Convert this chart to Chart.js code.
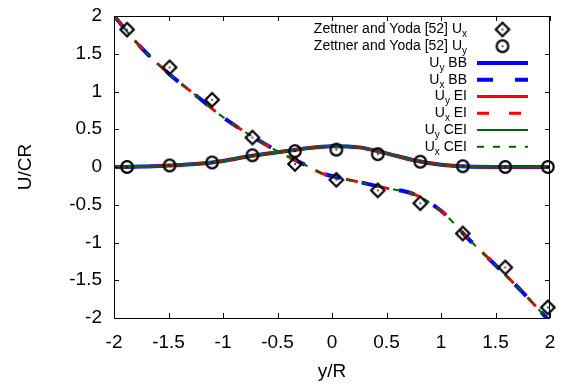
<!DOCTYPE html>
<html>
<head>
<meta charset="utf-8">
<script src="https://cdn.jsdelivr.net/npm/chart.js@4.4.0/dist/chart.umd.min.js"></script>
<style>
  html, body { margin: 0; padding: 0; background: #fff; }
</style>
</head>
<body>
<canvas id="chart" width="567" height="385"></canvas>
<script>
// ---- values ----
const xTicks = [-2, -1.5, -1, -0.5, 0, 0.5, 1, 1.5, 2];
const yTicks = [-2, -1.5, -1, -0.5, 0, 0.5, 1, 1.5, 2];

// Zettner and Yoda [52] measurements
const expX  = [-1.88, -1.49, -1.10, -0.73, -0.34, 0.04, 0.42, 0.81, 1.20, 1.59, 1.98];
const expUx = [1.82, 1.32, 0.89, 0.39, 0.04, -0.17, -0.31, -0.48, -0.88, -1.33, -1.86];
const expUy = [0.0, 0.02, 0.06, 0.155, 0.21, 0.23, 0.17, 0.07, 0.01, 0.0, 0.0];

// simulated profiles (BB, EI and CEI sit on top of each other)
const uyX = [-2, -1.75, -1.5, -1.25, -1, -0.75, -0.5, -0.25, 0, 0.25, 0.5, 0.75, 1, 1.25, 1.5, 1.75, 2];
const uyModel = [0, 0.005, 0.02, 0.04, 0.08, 0.145, 0.195, 0.245, 0.275, 0.26, 0.18, 0.09, 0.03, 0.005, 0, 0, 0];

const uxX = [-2, -1.75, -1.5, -1.25, -1, -0.75, -0.5, -0.35, -0.25, -0.1, 0, 0.25, 0.5, 0.75, 1, 1.25, 1.5, 1.75, 2];
const uxModel = [2.0, 1.58, 1.24, 0.95, 0.66, 0.42, 0.21, 0.1, 0.03, -0.08, -0.12, -0.2, -0.28, -0.36, -0.58, -0.95, -1.3, -1.66, -2.05];

const FONT = '"Liberation Sans", Arial, sans-serif';
const BLUE = '#0000ff', RED = '#ff0000', GREEN = '#006400';

const pts = (xs, ys) => xs.map((x, i) => ({ x, y: ys[i] }));

// gnuplot style markers: open diamond / circle with a dot in the middle
function marker(kind) {
    const c = document.createElement('canvas');
    c.width = c.height = 18;
    const g = c.getContext('2d');
    g.strokeStyle = '#000';
    g.fillStyle = '#000';
    g.lineWidth = 2.2;
    g.beginPath();
    if (kind === 'diamond') {
        g.moveTo(9, 2.3); g.lineTo(15.7, 9); g.lineTo(9, 15.7); g.lineTo(2.3, 9); g.closePath();
    } else {
        g.arc(9, 9, 5.8, 0, Math.PI * 2);
    }
    g.stroke();
    g.fillRect(8.2, 8.2, 1.6, 1.6);
    return c;
}

function curve(label, xs, ys, color, width, dash) {
    return {
        label, data: pts(xs, ys), showLine: true, pointRadius: 0,
        borderColor: color, borderWidth: width, borderDash: dash,
        borderCapStyle: 'butt', cubicInterpolationMode: 'monotone', clip: 0
    };
}

const datasets = [
    { label: 'Ux exp', data: pts(expX, expUx), pointStyle: marker('diamond'), showLine: false, clip: false },
    { label: 'Uy exp', data: pts(expX, expUy), pointStyle: marker('circle'), showLine: false, clip: false },
    curve('Uy CEI', uyX, uyModel, GREEN, 2, []),
    curve('Ux CEI', uxX, uxModel, GREEN, 2, [7, 9]),
    curve('Uy EI', uyX, uyModel, RED, 3, []),
    curve('Ux EI', uxX, uxModel, RED, 3, [12, 20]),
    curve('Uy BB', uyX, uyModel, BLUE, 4, []),
    curve('Ux BB', uxX, uxModel, BLUE, 4, [16, 22])
];

// legend rows: main text, subscript, trailing text, dataset index
const legendRows = [
    ['Zettner and Yoda [52] U', 'x', '', 0],
    ['Zettner and Yoda [52] U', 'y', '', 1],
    ['U', 'y', ' BB', 6],
    ['U', 'x', ' BB', 7],
    ['U', 'y', ' EI', 4],
    ['U', 'x', ' EI', 5],
    ['U', 'y', ' CEI', 2],
    ['U', 'x', ' CEI', 3]
];

const frame = {
    id: 'frame',
    afterDatasetsDraw(chart) {
        const { ctx, chartArea: a, scales } = chart;
        ctx.save();
        ctx.strokeStyle = '#000';
        ctx.lineWidth = 1;
        ctx.strokeRect(a.left + 0.5, a.top + 0.5, a.right - a.left - 1, a.bottom - a.top);
        ctx.beginPath();
        const tl = 5;
        xTicks.forEach(v => {
            const px = Math.round(scales.x.getPixelForValue(v)) + 0.5;
            ctx.moveTo(px, a.bottom); ctx.lineTo(px, a.bottom - tl);
            ctx.moveTo(px, a.top); ctx.lineTo(px, a.top + tl);
        });
        yTicks.forEach(v => {
            const py = Math.round(scales.y.getPixelForValue(v)) + 0.5;
            ctx.moveTo(a.left, py); ctx.lineTo(a.left + tl, py);
            ctx.moveTo(a.right, py); ctx.lineTo(a.right - tl, py);
        });
        ctx.stroke();
        ctx.restore();
    },
    afterDraw(chart) {
        const ctx = chart.ctx;
        const textRight = 467, lineL = 477, lineR = 528;
        ctx.save();
        legendRows.forEach(([main, sub, tail, di], i) => {
            const y = 29.5 + i * 16.75;
            ctx.font = '14px ' + FONT;
            const wMain = ctx.measureText(main).width;
            const wTail = ctx.measureText(tail).width;
            ctx.font = '10px ' + FONT;
            const wSub = ctx.measureText(sub).width;
            let x = textRight - wMain - wSub - wTail;
            ctx.fillStyle = '#000';
            ctx.textBaseline = 'middle';
            ctx.textAlign = 'left';
            ctx.font = '14px ' + FONT;
            ctx.fillText(main, x, y);
            x += wMain;
            ctx.font = '10px ' + FONT;
            ctx.fillText(sub, x, y + 5);
            x += wSub;
            ctx.font = '14px ' + FONT;
            ctx.fillText(tail, x, y);

            const ds = chart.data.datasets[di];
            if (ds.showLine) {
                ctx.strokeStyle = ds.borderColor;
                ctx.lineWidth = ds.borderWidth;
                ctx.lineCap = 'butt';
                ctx.setLineDash(ds.borderDash);
                ctx.beginPath();
                ctx.moveTo(lineL, y); ctx.lineTo(lineR, y);
                ctx.stroke();
                ctx.setLineDash([]);
            } else {
                const img = ds.pointStyle;
                ctx.drawImage(img, (lineL + lineR) / 2 - img.width / 2, y - img.height / 2);
            }
        });
        ctx.restore();
    }
};

const tickFont = { family: FONT, size: 19 };

new Chart(document.getElementById('chart'), {
    type: 'scatter',
    data: { datasets },
    plugins: [frame],
    options: {
        responsive: false,
        animation: false,
        devicePixelRatio: 1,
        layout: { padding: { left: 0, top: 16, right: 17, bottom: 0 } },
        plugins: { legend: { display: false }, tooltip: { enabled: false } },
        scales: {
            x: {
                type: 'linear', min: -2, max: 2,
                afterBuildTicks: s => { s.ticks = xTicks.map(v => ({ value: v })); },
                afterFit: s => { s.height = 67; s.paddingLeft = 0; s.paddingRight = 0; },
                ticks: { color: '#000', font: tickFont, padding: 13, maxRotation: 0, autoSkip: false, callback: v => String(v) },
                grid: { display: false, drawTicks: false },
                border: { display: false },
                title: { display: true, text: 'y/R', color: '#000', font: tickFont, padding: { top: 0, bottom: 2 } }
            },
            y: {
                type: 'linear', min: -2, max: 2,
                afterBuildTicks: s => { s.ticks = yTicks.map(v => ({ value: v })); },
                afterFit: s => { s.width = 114; s.paddingTop = 0; s.paddingBottom = 0; },
                ticks: { color: '#000', font: tickFont, padding: 12, autoSkip: false, callback: v => String(v) },
                grid: { display: false, drawTicks: false },
                border: { display: false },
                title: { display: true, text: 'U/CR', color: '#000', font: tickFont, padding: { top: 14, bottom: 0 } }
            }
        }
    }
});
</script>
</body>
</html>
